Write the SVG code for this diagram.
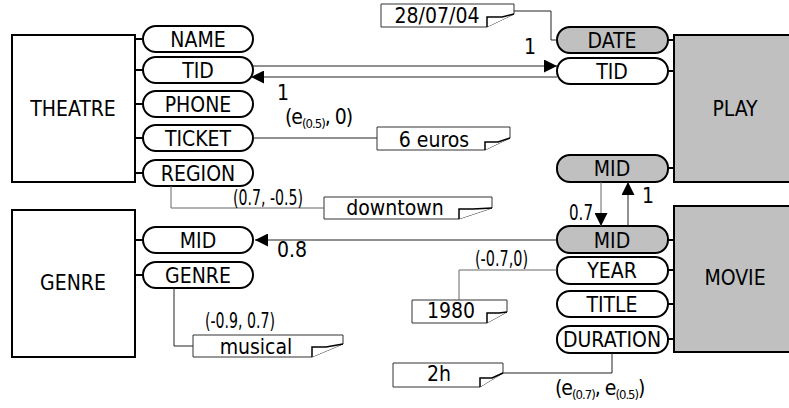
<svg xmlns="http://www.w3.org/2000/svg" width="789" height="408" viewBox="0 0 789 408">
<defs>
<style>
text{font-family:"DejaVu Sans Condensed","DejaVu Sans",sans-serif;font-stretch:condensed;font-size:21px;fill:#000}
.c{text-anchor:middle}
.lb{font-size:22px}
.ent{fill:#fff;stroke:#000;stroke-width:2}
.entg{fill:#c0c0c0;stroke:#000;stroke-width:2}
.pill{fill:#fff;stroke:#000;stroke-width:2}
.pillg{fill:#c0c0c0;stroke:#000;stroke-width:2}
.stub{stroke:#000;stroke-width:2;fill:none}
.ln{stroke:#222;stroke-width:1;fill:none}
.lg{stroke:#666;stroke-width:1;fill:none}
.note{fill:#fff;stroke:#333;stroke-width:1}
.fold{fill:#fff;stroke:#000;stroke-width:1.5}
.sub{font-size:13px}
</style>
<marker id="ah" markerWidth="13" markerHeight="13" refX="13" refY="6.5" orient="auto" markerUnits="userSpaceOnUse">
<path d="M0,0 L13,6.5 L0,13 Z" fill="#000"/>
</marker>
</defs>

<g id="theatre">
<rect class="ent" x="12" y="35" width="123" height="147"/>
<text class="c" x="73" y="116">THEATRE</text>
</g>
<g id="genre">
<rect class="ent" x="12" y="210" width="123" height="147"/>
<text class="c" x="73" y="290">GENRE</text>
</g>
<g id="play">
<rect class="entg" x="674" y="35" width="130" height="147"/>
<text class="c" x="735" y="116">PLAY</text>
</g>
<g id="movie">
<rect class="entg" x="674" y="206" width="130" height="146"/>
<text class="c" x="735" y="285">MOVIE</text>
</g>

<g id="t-name"><line class="stub" x1="135" y1="39" x2="143" y2="39"/><rect class="pill" x="143" y="26" width="110" height="26" rx="13"/><text class="c" x="198" y="47">NAME</text></g>
<g id="t-tid"><line class="stub" x1="135" y1="70" x2="143" y2="70"/><rect class="pill" x="143" y="57" width="110" height="26" rx="13"/><text class="c" x="198" y="78">TID</text></g>
<g id="t-phone"><line class="stub" x1="135" y1="104" x2="143" y2="104"/><rect class="pill" x="143" y="91" width="110" height="26" rx="13"/><text class="c" x="198" y="112">PHONE</text></g>
<g id="t-ticket"><line class="stub" x1="135" y1="138" x2="143" y2="138"/><rect class="pill" x="143" y="125" width="110" height="26" rx="13"/><text class="c" x="198" y="146">TICKET</text></g>
<g id="t-region"><line class="stub" x1="135" y1="173" x2="143" y2="173"/><rect class="pill" x="143" y="160" width="110" height="26" rx="13"/><text class="c" x="198" y="181">REGION</text></g>

<g id="g-mid"><line class="stub" x1="135" y1="240" x2="143" y2="240"/><rect class="pill" x="143" y="227" width="110" height="26" rx="13"/><text class="c" x="198" y="248">MID</text></g>
<g id="g-genre"><line class="stub" x1="135" y1="275" x2="143" y2="275"/><rect class="pill" x="143" y="262" width="110" height="26" rx="13"/><text class="c" x="198" y="283">GENRE</text></g>

<g id="p-date"><line class="stub" x1="668" y1="40" x2="674" y2="40"/><rect class="pillg" x="557" y="27" width="111" height="26" rx="13"/><text class="c" x="612" y="48">DATE</text></g>
<g id="p-tid"><line class="stub" x1="668" y1="71" x2="674" y2="71"/><rect class="pill" x="557" y="58" width="111" height="26" rx="13"/><text class="c" x="612" y="79">TID</text></g>
<g id="p-mid"><line class="stub" x1="668" y1="168" x2="674" y2="168"/><rect class="pillg" x="557" y="155" width="111" height="27" rx="13"/><text class="c" x="612" y="176">MID</text></g>

<g id="m-mid"><line class="stub" x1="668" y1="240" x2="674" y2="240"/><rect class="pillg" x="557" y="226" width="111" height="27" rx="13"/><text class="c" x="612" y="248">MID</text></g>
<g id="m-year"><line class="stub" x1="668" y1="270" x2="674" y2="270"/><rect class="pill" x="557" y="257" width="111" height="27" rx="13"/><text class="c" x="612" y="278">YEAR</text></g>
<g id="m-title"><line class="stub" x1="668" y1="304" x2="674" y2="304"/><rect class="pill" x="557" y="291" width="111" height="26" rx="13"/><text class="c" x="612" y="312">TITLE</text></g>
<g id="m-duration"><line class="stub" x1="668" y1="339" x2="674" y2="339"/><rect class="pill" x="557" y="326" width="111" height="27" rx="13"/><text class="c" x="612" y="347">DURATION</text></g>

<g id="n-date"><path class="note" d="M381,4 H514 V14 L487,27 H381 Z"/><path class="fold" d="M487,27 V17 H502 L514,14"/><text class="c" x="437" y="23">28/07/04</text></g>
<g id="n-euros"><path class="note" d="M377,127 H510 V138 L485,150 H377 Z"/><path class="fold" d="M485,150 V142 H498 L510,138"/><text class="c" x="434" y="147">6 euros</text></g>
<g id="n-downtown"><path class="note" d="M324,197 H492 V208 L459,219 H324 Z"/><path class="fold" d="M459,219 V209 H473 L492,208"/><text class="c" x="395" y="215">downtown</text></g>
<g id="n-musical"><path class="note" d="M193,335 H343 V344 L312,357 H193 Z"/><path class="fold" d="M312,357 V347 H326 L343,344"/><text class="c" x="256" y="354">musical</text></g>
<g id="n-1980"><path class="note" d="M412,300 H507 V312 L487,323 H412 Z"/><path class="fold" d="M487,323 V313 H499 L507,312"/><text class="c" x="451" y="318">1980</text></g>
<g id="n-2h"><path class="note" d="M393,363 H503 V373 L480,387 H393 Z"/><path class="fold" d="M480,387 V378 H492 L503,373"/><text class="c" x="439" y="381">2h</text></g>

<g id="connectors">
<line class="ln" x1="252" y1="66" x2="557" y2="66" marker-end="url(#ah)"/>
<line class="ln" x1="557" y1="77" x2="251" y2="77" marker-end="url(#ah)"/>
<line class="ln" x1="557" y1="240" x2="255" y2="240" marker-end="url(#ah)"/>
<line class="lg" x1="601" y1="182" x2="601" y2="226" marker-end="url(#ah)"/>
<line class="ln" x1="628" y1="226" x2="628" y2="182" marker-end="url(#ah)"/>
<polyline class="ln" points="514,11 551,11 551,40 557,40"/>
<line class="ln" x1="253" y1="138" x2="377" y2="138"/>
<polyline class="lg" points="171,186 171,208 324,208"/>
<polyline class="ln" points="174,288 174,346 193,346"/>
<polyline class="lg" points="557,270 459,270 459,300"/>
<polyline class="ln" points="612,353 612,373 503,373"/>
<text x="524" y="54">1</text>
<text x="277" y="100">1</text>
<text x="277" y="257">0.8</text>
<text class="lb" x="569" y="220" textLength="24" lengthAdjust="spacingAndGlyphs">0.7</text>
<text x="642" y="203">1</text>
<text x="285" y="124" letter-spacing="-1">(e<tspan class="sub" dy="4">(0.5)</tspan><tspan dy="-4">, 0)</tspan></text>
<text class="lb" x="233" y="205" textLength="70" lengthAdjust="spacingAndGlyphs">(0.7, -0.5)</text>
<text class="lb" x="205" y="328" textLength="70" lengthAdjust="spacingAndGlyphs">(-0.9, 0.7)</text>
<text class="lb" x="475" y="266" textLength="53" lengthAdjust="spacingAndGlyphs">(-0.7,0)</text>
<text x="555" y="395" letter-spacing="-1">(e<tspan class="sub" dy="4">(0.7)</tspan><tspan dy="-4">, e</tspan><tspan class="sub" dy="4">(0.5)</tspan><tspan dy="-4">)</tspan></text>
</g>
</svg>
